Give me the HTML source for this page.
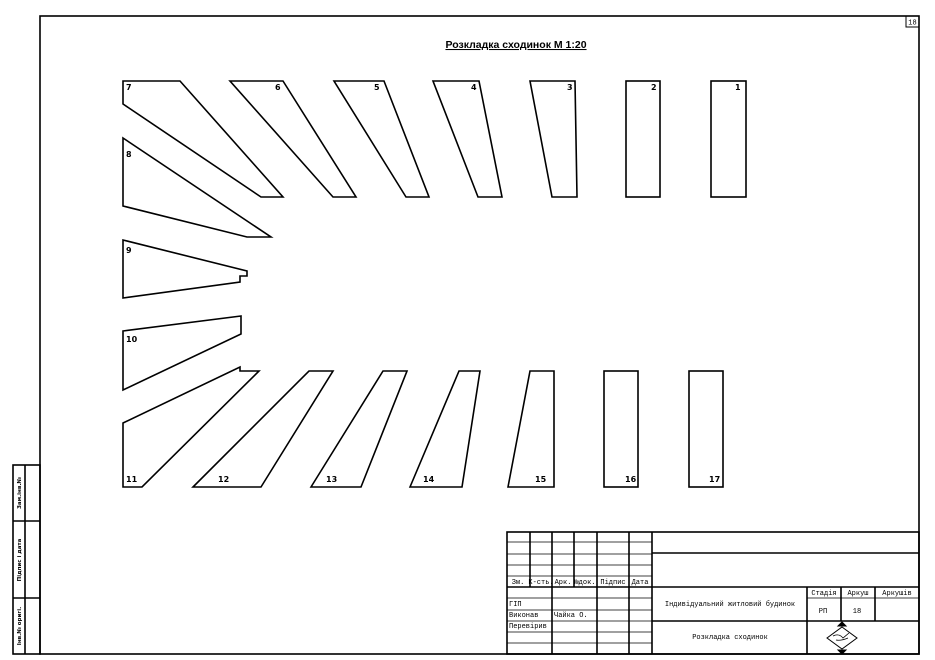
<!DOCTYPE html>
<html><head><meta charset="utf-8"><style>
html,body{margin:0;padding:0;background:#fff;}
svg{display:block;}
.l{font-family:"DejaVu Sans","Liberation Sans",sans-serif;font-weight:bold;font-size:8px;fill:#000;}
.m{font-family:"Liberation Mono",monospace;font-size:7px;fill:#000;}
</style></head><body>
<svg width="935" height="660" viewBox="0 0 935 660" xmlns="http://www.w3.org/2000/svg">
<g fill="none" stroke="#000" stroke-width="1.6" stroke-linejoin="miter">
<rect x="40" y="16" width="879" height="638"/>
<rect x="906" y="16" width="13" height="11" stroke-width="1"/>
<polygon points="123,81 180,81 283,197 261,197 123,104"/>
<polygon points="230,81 283,81 356,197 333,197"/>
<polygon points="334,81 384,81 429,197 406,197"/>
<polygon points="433,81 479,81 502,197 478,197"/>
<polygon points="530,81 575,81 577,197 552,197"/>
<rect x="626" y="81" width="34" height="116"/>
<rect x="711" y="81" width="35" height="116"/>
<polygon points="123,138 271,237 247,237 123,206"/>
<polygon points="123,240 247,271 247,276 240,276 240,282 123,298"/>
<polygon points="123,331 241,316 241,334 123,390"/>
<polygon points="123,423 240,367 240,371 259,371 142,487 123,487"/>
<polygon points="193,487 309,371 333,371 261,487"/>
<polygon points="311,487 383,371 407,371 361,487"/>
<polygon points="410,487 459,371 480,371 462,487"/>
<polygon points="508,487 530,371 554,371 554,487"/>
<rect x="604" y="371" width="34" height="116"/>
<rect x="689" y="371" width="34" height="116"/>
<rect x="13" y="465" width="27" height="189"/>
<line x1="25" y1="465" x2="25" y2="654"/>
<line x1="13" y1="521" x2="40" y2="521"/>
<line x1="13" y1="598" x2="40" y2="598"/>
<rect x="507" y="532" width="412" height="122"/>
<line x1="530" y1="532" x2="530" y2="587"/>
<line x1="552" y1="532" x2="552" y2="654"/>
<line x1="574" y1="532" x2="574" y2="587"/>
<line x1="597" y1="532" x2="597" y2="654"/>
<line x1="629" y1="532" x2="629" y2="654"/>
<line x1="652" y1="532" x2="652" y2="654"/>
<line x1="652" y1="553" x2="919" y2="553"/>
<line x1="507" y1="587" x2="919" y2="587"/>
<line x1="652" y1="621" x2="919" y2="621"/>
<line x1="807" y1="587" x2="807" y2="654"/>
<line x1="841" y1="587" x2="841" y2="621"/>
<line x1="875" y1="587" x2="875" y2="621"/>
</g>
<g stroke="#000" stroke-width="0.7">
<line x1="507" y1="542" x2="652" y2="542"/>
<line x1="507" y1="554" x2="652" y2="554"/>
<line x1="507" y1="565" x2="652" y2="565"/>
<line x1="507" y1="576" x2="652" y2="576"/>
<line x1="507" y1="598" x2="652" y2="598"/>
<line x1="507" y1="610" x2="652" y2="610"/>
<line x1="507" y1="621" x2="652" y2="621"/>
<line x1="507" y1="632" x2="652" y2="632"/>
<line x1="507" y1="643" x2="652" y2="643"/>
<line x1="807" y1="598" x2="919" y2="598"/>
</g>
<g fill="none" stroke="#000" stroke-width="1">
<polygon points="842,627 857,638 842,649 827,638"/>
<polygon points="838,626 846,626 842,622" fill="#000"/>
<polygon points="838,650 846,650 842,654" fill="#000"/>
<path d="M833,636 q6,-3 10,2 l6,-5 M836,640 q5,1 12,-2" stroke-width="0.8"/>
</g>
<text class="l" x="126" y="90">7</text>
<text class="l" x="275" y="90">6</text>
<text class="l" x="374" y="90">5</text>
<text class="l" x="471" y="90">4</text>
<text class="l" x="567" y="90">3</text>
<text class="l" x="651" y="90">2</text>
<text class="l" x="735" y="90">1</text>
<text class="l" x="126" y="157">8</text>
<text class="l" x="126" y="253">9</text>
<text class="l" x="126" y="342">10</text>
<text class="l" x="126" y="482">11</text>
<text class="l" x="218" y="482">12</text>
<text class="l" x="326" y="482">13</text>
<text class="l" x="423" y="482">14</text>
<text class="l" x="535" y="482">15</text>
<text class="l" x="625" y="482">16</text>
<text class="l" x="709" y="482">17</text>
<text x="516" y="48" text-anchor="middle" font-family="Liberation Sans,sans-serif" font-weight="bold" font-size="10.5" text-decoration="underline">Розкладка сходинок  М 1:20</text>
<text class="m" x="912.5" y="24.5" text-anchor="middle" font-size="7">18</text>
<text class="m" x="518" y="584" text-anchor="middle" font-size="6">Зм.</text>
<text class="m" x="541" y="584" text-anchor="middle" font-size="6">К-сть.</text>
<text class="m" x="563" y="584" text-anchor="middle" font-size="6">Арк.</text>
<text class="m" x="585" y="584" text-anchor="middle" font-size="6">№док.</text>
<text class="m" x="613" y="584" text-anchor="middle" font-size="6">Підпис</text>
<text class="m" x="640" y="584" text-anchor="middle" font-size="6">Дата</text>
<text class="m" x="509" y="606" font-size="7">ГІП</text>
<text class="m" x="509" y="617" font-size="7">Виконав</text>
<text class="m" x="554" y="617" font-size="7">Чайка О.</text>
<text class="m" x="509" y="628" font-size="7">Перевірив</text>
<text class="m" x="730" y="606" text-anchor="middle" font-size="8">Індивідуальний житловий будинок</text>
<text class="m" x="730" y="639" text-anchor="middle" font-size="9">Розкладка сходинок</text>
<text class="m" x="824" y="595" text-anchor="middle" font-size="7">Стадія</text>
<text class="m" x="858" y="595" text-anchor="middle" font-size="7">Аркуш</text>
<text class="m" x="897" y="595" text-anchor="middle" font-size="7">Аркушів</text>
<text class="m" x="823" y="613" text-anchor="middle" font-size="8">РП</text>
<text class="m" x="857" y="613" text-anchor="middle" font-size="8">18</text>
<g class="l" text-anchor="middle">
<text transform="translate(21,493) rotate(-90)" font-size="5.5">Зам.інв.№</text>
<text transform="translate(21,560) rotate(-90)" font-size="5.5">Підпис і дата</text>
<text transform="translate(21,626) rotate(-90)" font-size="5.5">Інв.№ оригі.</text>
</g>
</svg>
</body></html>
